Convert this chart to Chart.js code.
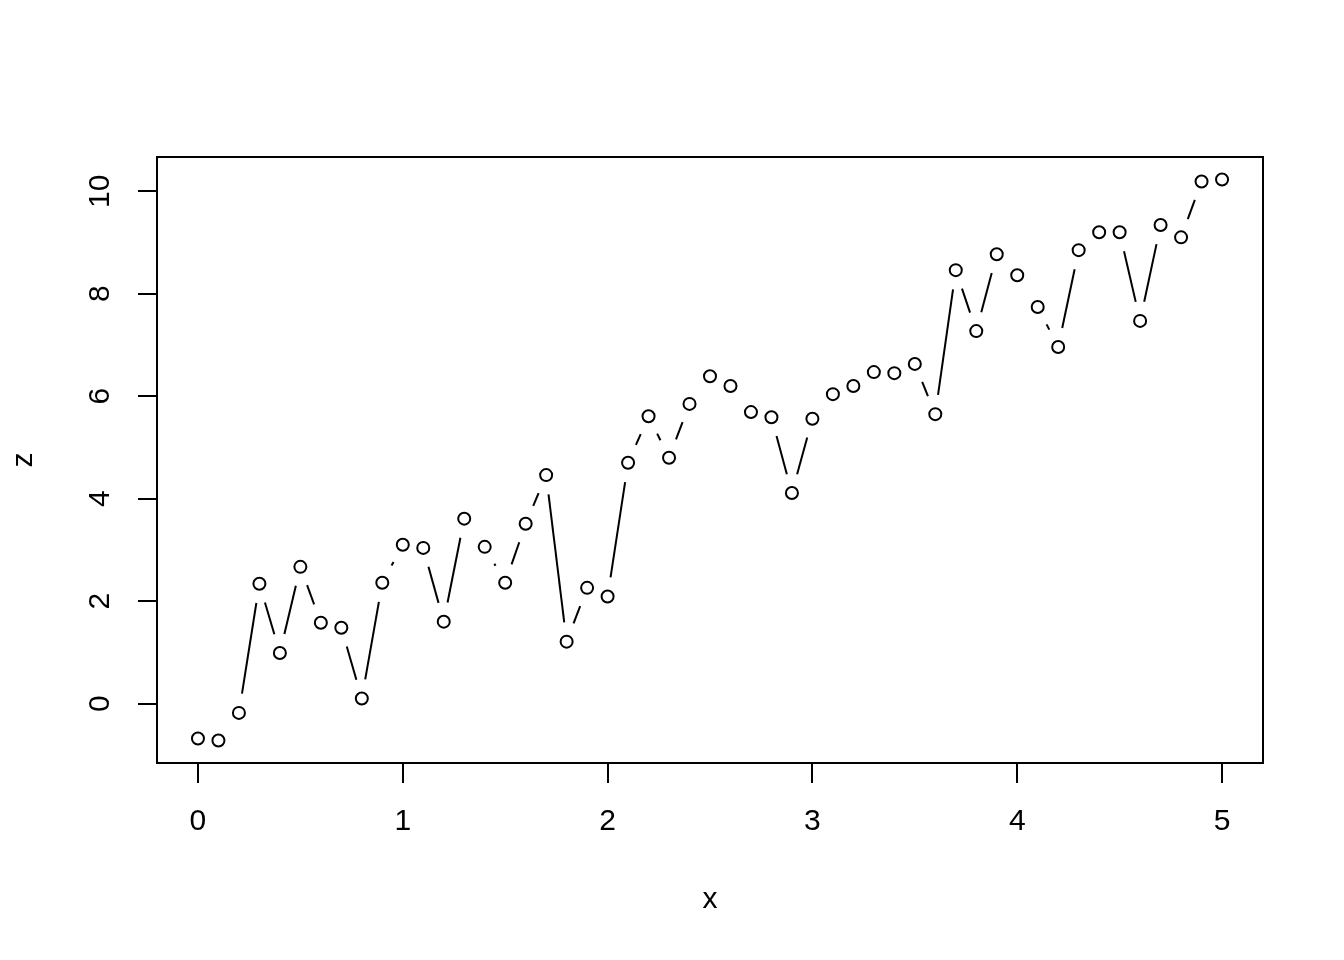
<!DOCTYPE html>
<html>
<head>
<meta charset="utf-8">
<script src="https://cdn.jsdelivr.net/npm/chart.js@4/dist/chart.umd.min.js"></script>
<style>
  html, body { margin: 0; padding: 0; background: #ffffff; }
  #wrap { width: 1344px; height: 960px; position: relative; }
</style>
</head>
<body>
<div id="wrap"><canvas id="c" width="1344" height="960"></canvas></div>
<script>
const xValues = [0, 0.1, 0.2, 0.3, 0.4, 0.5, 0.6, 0.7, 0.8, 0.9,
                 1.0, 1.1, 1.2, 1.3, 1.4, 1.5, 1.6, 1.7, 1.8, 1.9,
                 2.0, 2.1, 2.2, 2.3, 2.4, 2.5, 2.6, 2.7, 2.8, 2.9,
                 3.0, 3.1, 3.2, 3.3, 3.4, 3.5, 3.6, 3.7, 3.8, 3.9,
                 4.0, 4.1, 4.2, 4.3, 4.4, 4.5, 4.6, 4.7, 4.8, 4.9, 5.0];
const zValues = [-0.68, -0.72, -0.18, 2.34, 0.99, 2.67, 1.58, 1.48, 0.10, 2.36,
                 3.10, 3.04, 1.60, 3.61, 3.06, 2.36, 3.51, 4.46, 1.21, 2.26,
                 2.09, 4.70, 5.61, 4.80, 5.85, 6.39, 6.20, 5.69, 5.59, 4.11,
                 5.56, 6.04, 6.20, 6.47, 6.45, 6.63, 5.65, 8.46, 7.27, 8.77,
                 8.36, 7.74, 6.96, 8.85, 9.20, 9.20, 7.47, 9.34, 9.10, 10.19, 10.23];
const xTicks = [0, 1, 2, 3, 4, 5];
const yTicks = [0, 2, 4, 6, 8, 10];
const xTitle = 'x';
const yTitle = 'z';

const FONT = '"Liberation Sans", Arial, sans-serif';
const FONT_SIZE = 30;
const GAP = 19.5;

const points = xValues.map((x, i) => ({ x: x, y: zValues[i] }));

// R-like range: data range extended by 4%
function ext(arr) {
  const mn = Math.min(...arr), mx = Math.max(...arr);
  const d = (mx - mn) * 0.04;
  return [mn - d, mx + d];
}
const xr = ext(xValues), yr = ext(zValues);

const gapLines = {
  id: 'gapLines',
  afterDatasetsDraw(chart) {
    const ctx = chart.ctx;
    const xs = chart.scales.x, ys = chart.scales.y;
    ctx.save();
    ctx.strokeStyle = '#000';
    ctx.lineWidth = 2;
    ctx.lineCap = 'butt';
    for (let i = 0; i < points.length - 1; i++) {
      const x1 = xs.getPixelForValue(points[i].x), y1 = ys.getPixelForValue(points[i].y);
      const x2 = xs.getPixelForValue(points[i+1].x), y2 = ys.getPixelForValue(points[i+1].y);
      const dx = x2 - x1, dy = y2 - y1;
      const len = Math.sqrt(dx*dx + dy*dy);
      if (len <= 2 * GAP) continue;
      const ux = dx / len, uy = dy / len;
      ctx.beginPath();
      ctx.moveTo(x1 + ux * GAP, y1 + uy * GAP);
      ctx.lineTo(x2 - ux * GAP, y2 - uy * GAP);
      ctx.stroke();
    }
    ctx.restore();
  }
};

const frame = {
  id: 'frame',
  afterDraw(chart) {
    const ctx = chart.ctx;
    const a = chart.chartArea;
    const ys = chart.scales.y;
    ctx.save();
    ctx.strokeStyle = '#000';
    ctx.lineWidth = 2;
    ctx.strokeRect(a.left, a.top, a.right - a.left, a.bottom - a.top);
    // y tick labels, rotated like R (las=0)
    ctx.fillStyle = '#000';
    ctx.font = FONT_SIZE + 'px ' + FONT;
    ctx.textAlign = 'center';
    ctx.textBaseline = 'middle';
    yTicks.forEach(v => {
      const py = ys.getPixelForValue(v);
      ctx.save();
      ctx.translate(101, py);
      ctx.rotate(-Math.PI / 2);
      ctx.fillText(String(v), 0, 0);
      ctx.restore();
    });
    // axis titles
    ctx.fillText(xTitle, (a.left + a.right) / 2, 900);
    ctx.save();
    ctx.translate(24, (a.top + a.bottom) / 2);
    ctx.rotate(-Math.PI / 2);
    ctx.fillText(yTitle, 0, 0);
    ctx.restore();
    ctx.restore();
  }
};

new Chart(document.getElementById('c'), {
  type: 'scatter',
  data: {
    datasets: [{
      data: points,
      showLine: false,
      pointStyle: 'circle',
      pointRadius: 6,
      pointBorderWidth: 2,
      pointBorderColor: '#000',
      pointBackgroundColor: 'rgba(0,0,0,0)',
      pointHoverRadius: 6
    }]
  },
  options: {
    responsive: false,
    animation: false,
    events: [],
    layout: { padding: { top: 157, right: 81, left: 0, bottom: 0 } },
    plugins: { legend: { display: false }, tooltip: { enabled: false } },
    scales: {
      x: {
        type: 'linear',
        min: xr[0], max: xr[1],
        afterBuildTicks: s => { s.ticks = xTicks.map(v => ({ value: v })); },
        afterFit: s => { s.height = 197; },
        border: { display: false },
        grid: { drawOnChartArea: false, drawTicks: true, tickLength: 20, color: '#000', lineWidth: 2 },
        ticks: {
          color: '#000', font: { family: FONT, size: FONT_SIZE }, padding: 21,
          maxRotation: 0, minRotation: 0,
          callback: v => String(v)
        }
      },
      y: {
        type: 'linear',
        min: yr[0], max: yr[1],
        afterBuildTicks: s => { s.ticks = yTicks.map(v => ({ value: v })); },
        afterFit: s => { s.width = 157; },
        border: { display: false },
        grid: { drawOnChartArea: false, drawTicks: true, tickLength: 19, color: '#000', lineWidth: 2 },
        ticks: { display: false }
      }
    }
  },
  plugins: [gapLines, frame]
});
</script>
</body>
</html>
